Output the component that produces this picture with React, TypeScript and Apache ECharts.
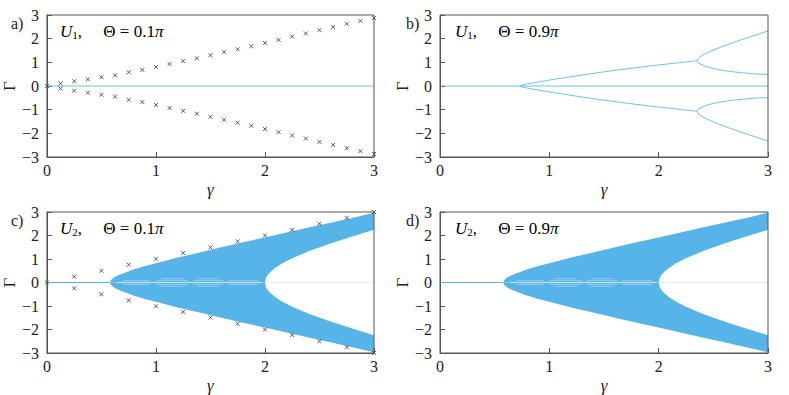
import React, { useEffect, useRef } from "react";
import * as echarts from "echarts";

// ---- data ----
// panel a: markers (gamma step 0.125)
const aGamma = [0, 0.125, 0.25, 0.375, 0.5, 0.625, 0.75, 0.875, 1.0, 1.125, 1.25, 1.375, 1.5, 1.625, 1.75, 1.875, 2.0, 2.125, 2.25, 2.375, 2.5, 2.625, 2.75, 2.875, 3.0];
const aGamma0 = [0, 0.11, 0.2, 0.28, 0.37, 0.45, 0.58, 0.68, 0.8, 0.93, 1.05, 1.17, 1.3, 1.43, 1.55, 1.68, 1.82, 1.95, 2.09, 2.22, 2.36, 2.49, 2.63, 2.75, 2.87];

// panel b: branches
const bBranchX = [0.73, 0.75, 0.8, 0.9, 1.0, 1.25, 1.5, 1.75, 2.0, 2.2, 2.35];
const bBranchY = [0, 0.04, 0.09, 0.17, 0.25, 0.43, 0.6, 0.75, 0.89, 0.99, 1.07];
const bSplitX = [2.35, 2.36, 2.38, 2.42, 2.48, 2.56, 2.66, 2.78, 2.9, 3.0];
const bSplitHigh = [1.07, 1.16, 1.24, 1.35, 1.48, 1.63, 1.8, 1.99, 2.17, 2.33];
const bSplitLow = [1.07, 0.99, 0.93, 0.85, 0.76, 0.68, 0.61, 0.55, 0.51, 0.49];

// panels c, d: band of eigenvalues
const bandGamma = [0.577, 0.59, 0.62, 0.66, 0.72, 0.8, 0.9, 1.0, 1.2, 1.4, 1.6, 1.8, 2.0, 2.01, 2.03, 2.06, 2.1, 2.16, 2.25, 2.4, 2.6, 2.8, 3.0];
const bandOuter = [0, 0.12, 0.23, 0.32, 0.43, 0.56, 0.7, 0.82, 1.06, 1.28, 1.5, 1.71, 1.92, 1.93, 1.95, 1.98, 2.02, 2.08, 2.18, 2.34, 2.54, 2.75, 2.97];
const bandInner = [0, 0, 0, 0, 0, 0, 0, 0, 0, 0, 0, 0, 0, 0.2, 0.35, 0.49, 0.64, 0.82, 1.03, 1.33, 1.66, 1.96, 2.24];
// panel c markers (gamma step 0.25)
const cGamma = [0, 0.25, 0.5, 0.75, 1.0, 1.25, 1.5, 1.75, 2.0, 2.25, 2.5, 2.75, 3.0];
const cGamma0 = [0, 0.25, 0.5, 0.76, 1.01, 1.25, 1.49, 1.75, 2.0, 2.24, 2.5, 2.75, 3.0];
// light gaps near zero inside the band (level, start, end)
const holeLevels = [0, 0.08, -0.08, 0.08, -0.08, 0.08, -0.08, 0.08, -0.08, 0.16, -0.16, 0.16, -0.16];
const holeStart = [0.64, 0.7, 0.7, 1.0, 1.0, 1.34, 1.34, 1.66, 1.66, 1.05, 1.05, 1.38, 1.38];
const holeEnd = [1.98, 0.95, 0.95, 1.3, 1.3, 1.62, 1.62, 1.94, 1.94, 1.25, 1.25, 1.58, 1.58];
const bandStart = 0.577;

const panelLabels = ["a)", "b)", "c)", "d)"];
const panelU = ["1", "1", "2", "2"];
const panelTheta = ["0.1", "0.9", "0.1", "0.9"];

const BLUE = "#56b4e9";
const FONT = "Liberation Serif";

const zip = (xs: number[], ys: number[], s = 1) => xs.map((x, i) => [x, s * ys[i]]);

export default function App() {
  const ref = useRef<HTMLDivElement>(null);
  useEffect(() => {
    const chart = echarts.init(ref.current!, null, { renderer: "svg" });
    const grids = [
      { left: 45, top: 15, width: 329, height: 142 },
      { left: 440, top: 15, width: 328, height: 142 },
      { left: 45, top: 212, width: 329, height: 142 },
      { left: 440, top: 212, width: 328, height: 142 },
    ].map((g) => ({ ...g, show: true, borderColor: "#555", borderWidth: 1, z: 10, backgroundColor: "transparent" }));

    const xAxes = grids.map((_, i) => ({
      gridIndex: i,
      type: "value",
      min: 0,
      max: 3,
      interval: 1,
      axisLine: { show: true, onZero: false, lineStyle: { color: "#555" } },
      axisTick: { show: true, inside: true, length: 5, lineStyle: { color: "#555" } },
      axisLabel: { fontFamily: FONT, fontSize: 16, color: "#222", margin: 5 },
      splitLine: { show: false },
      name: "γ",
      nameLocation: "middle",
      nameGap: 24,
      nameTextStyle: { fontFamily: FONT, fontStyle: "italic", fontSize: 17, color: "#222" },
    }));
    const yAxes = grids.map((_, i) => ({
      gridIndex: i,
      type: "value",
      min: -3,
      max: 3,
      interval: 1,
      axisLine: { show: true, onZero: false, lineStyle: { color: "#555" } },
      axisTick: { show: true, inside: true, length: 5, lineStyle: { color: "#555" } },
      axisLabel: {
        fontFamily: FONT,
        fontSize: 16,
        color: "#222",
        margin: 8,
        formatter: (v: number) => (v < 0 ? "−" + Math.abs(v) : String(v)),
      },
      splitLine: { show: false },
      name: "Γ",
      nameLocation: "middle",
      nameGap: 27,
      nameTextStyle: { fontFamily: FONT, fontSize: 17, color: "#222" },
    }));

    const series: any[] = [];
    const line = (idx: number, data: number[][], extra: any = {}) => ({
      type: "line",
      xAxisIndex: idx,
      yAxisIndex: idx,
      data,
      showSymbol: false,
      symbol: "none",
      silent: true,
      lineStyle: { color: BLUE, width: 1, opacity: 0.85 },
      ...extra,
    });
    const marker = (idx: number, data: number[][]) => ({
      type: "scatter",
      xAxisIndex: idx,
      yAxisIndex: idx,
      data,
      symbol: "path://M0,0L10,10M10,0L0,10",
      symbolSize: 4,
      clip: false,
      z: 5,
      itemStyle: { color: "none", borderColor: "#333", borderWidth: 1 },
    });

    // panel a
    series.push(line(0, [[0, 0], [3, 0]]));
    series.push(marker(0, zip(aGamma, aGamma0)));
    series.push(marker(0, zip(aGamma.slice(1), aGamma0.slice(1), -1)));

    // panel b
    series.push(line(1, [[0, 0], [3, 0]]));
    series.push(line(1, zip(bBranchX, bBranchY)));
    series.push(line(1, zip(bBranchX, bBranchY, -1)));
    series.push(line(1, zip(bSplitX, bSplitHigh)));
    series.push(line(1, zip(bSplitX, bSplitLow)));
    series.push(line(1, zip(bSplitX, bSplitHigh, -1)));
    series.push(line(1, zip(bSplitX, bSplitLow, -1)));

    // panels c, d
    [2, 3].forEach((idx) => {
      const area = (data: number[][], color: string, z: number) =>
        line(idx, data, {
          lineStyle: { width: 0, color },
          areaStyle: { color, opacity: 1 },
          z,
        });
      series.push(line(idx, [[0, 0], [bandStart, 0]], { lineStyle: { color: BLUE, width: 1 } }));
      series.push(area(zip(bandGamma, bandOuter), BLUE, 2));
      series.push(area(zip(bandGamma, bandOuter, -1), BLUE, 2));
      const innerIdx = bandInner.map((v, i) => i).filter((i) => bandGamma[i] >= 2);
      series.push(area(innerIdx.map((i) => [bandGamma[i], bandInner[i]]), "#ffffff", 3));
      series.push(area(innerIdx.map((i) => [bandGamma[i], -bandInner[i]]), "#ffffff", 3));
      holeLevels.forEach((lv, k) => {
        series.push(
          line(idx, [[holeStart[k], lv], [holeEnd[k], lv]], {
            lineStyle: { color: "#ffffff", width: 0.8, opacity: k === 0 ? 0.75 : 0.45 },
            z: 4,
          })
        );
      });
    });
    series.push(marker(2, zip(cGamma, cGamma0)));
    series.push(marker(2, zip(cGamma.slice(1), cGamma0.slice(1), -1)));

    const graphic: any[] = [];
    grids.forEach((g, i) => {
      graphic.push({
        type: "text",
        left: g.left - 34,
        top: g.top,
        style: { text: panelLabels[i], fontFamily: FONT, fontSize: 16, fill: "#222" },
      });
      graphic.push({
        type: "text",
        left: g.left + 15,
        top: g.top + 8,
        style: {
          text: `{i|U}{s|${panelU[i]}}{n|,     Θ = ${panelTheta[i]}}{i|π}`,
          rich: {
            i: { fontFamily: FONT, fontStyle: "italic", fontSize: 17, color: "#222" },
            s: { fontFamily: FONT, fontSize: 11, color: "#222", padding: [7, 0, 0, 0] },
            n: { fontFamily: FONT, fontSize: 17, color: "#222" },
          },
        },
      });
    });

    chart.setOption({
      animation: false,
      backgroundColor: "#ffffff",
      grid: grids,
      xAxis: xAxes,
      yAxis: yAxes,
      series,
      graphic,
    });
    return () => chart.dispose();
  }, []);
  return <div ref={ref} style={{ position: "fixed", left: 0, top: 0, width: 789, height: 395 }} />;
}
